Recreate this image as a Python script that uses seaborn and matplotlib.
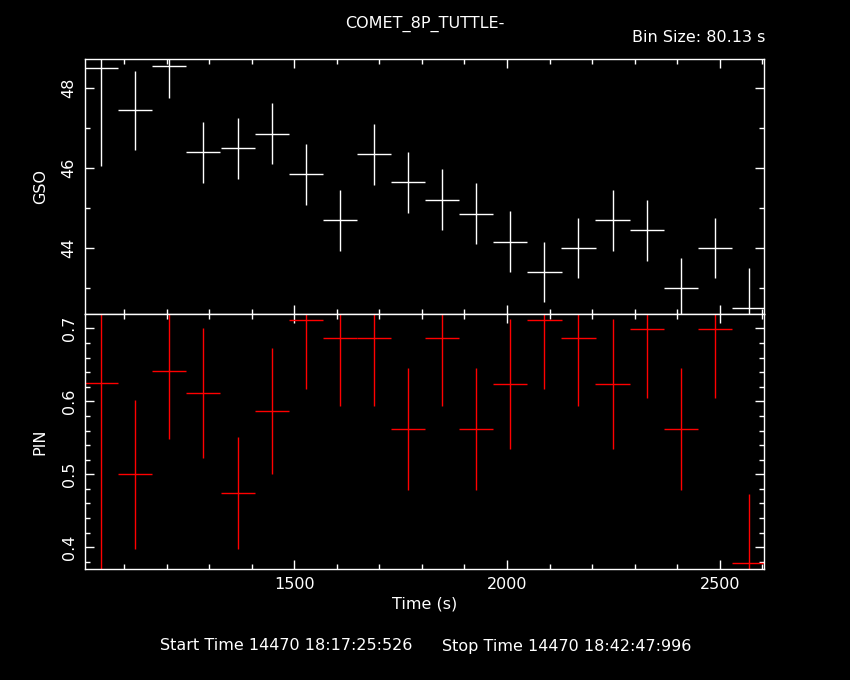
import numpy as np
import pandas as pd
import matplotlib
matplotlib.use("Agg")
import matplotlib.pyplot as plt
from matplotlib.ticker import MultipleLocator
import seaborn as sns

# ── Data ─────────────────────────────────────────────────────────────────────
time_s = [1046, 1126, 1206, 1286, 1367, 1447, 1527, 1607, 1687, 1767,
          1847, 1927, 2008, 2088, 2168, 2248, 2328, 2408, 2488, 2568]
half_bin = 40.065   # Bin size 80.13 s

gso = [48.50, 47.43, 48.55, 46.38, 46.48, 46.85, 45.83, 44.68, 46.33, 45.63,
       45.20, 44.85, 44.15, 43.38, 43.98, 44.68, 44.43, 43.00, 44.00, 42.48]
gso_err = [2.45, 0.99, 0.80, 0.77, 0.77, 0.77, 0.76, 0.76, 0.76, 0.76,
           0.76, 0.76, 0.76, 0.75, 0.75, 0.76, 0.76, 0.75, 0.75, 1.00]

pin = [0.625, 0.500, 0.641, 0.611, 0.474, 0.587, 0.712, 0.687, 0.687, 0.562,
       0.687, 0.562, 0.624, 0.712, 0.687, 0.624, 0.699, 0.562, 0.699, 0.378]
pin_err = [0.27, 0.102, 0.093, 0.089, 0.077, 0.086, 0.095, 0.094, 0.094, 0.084,
           0.094, 0.084, 0.089, 0.095, 0.094, 0.089, 0.094, 0.084, 0.094, 0.095]

df = pd.DataFrame({"time": time_s, "GSO": gso, "GSO_err": gso_err,
                   "PIN": pin, "PIN_err": pin_err})

# ── Style: black PGPLOT-like look ────────────────────────────────────────────
sns.set_style("ticks", {"axes.facecolor": "black", "figure.facecolor": "black",
                        "axes.edgecolor": "white", "text.color": "white",
                        "xtick.color": "white", "ytick.color": "white",
                        "axes.labelcolor": "white"})
plt.rcParams["font.family"] = ["DejaVu Sans"]
FS = 11.5

fig = plt.figure(figsize=(8.5, 6.8), dpi=100, facecolor="black")
ax_top = fig.add_axes([0.1, 0.5382, 0.7988, 0.3746])
ax_bot = fig.add_axes([0.1, 0.1632, 0.7988, 0.3750], sharex=ax_top)

ax_top.errorbar(df["time"], df["GSO"], xerr=half_bin, yerr=df["GSO_err"],
                fmt="none", ecolor="white", elinewidth=1.0, capsize=0)
ax_bot.errorbar(df["time"], df["PIN"], xerr=half_bin, yerr=df["PIN_err"],
                fmt="none", ecolor="#ff0000", elinewidth=1.0, capsize=0)

ax_top.set_xlim(1008, 2604)
ax_top.set_ylim(42.34, 48.71)
ax_bot.set_ylim(0.370, 0.7198)

for ax in (ax_top, ax_bot):
    ax.set_facecolor("black")
    for sp in ax.spines.values():
        sp.set_color("white")
        sp.set_linewidth(1.0)
        sp.set_visible(True)
    ax.xaxis.set_major_locator(MultipleLocator(500))
    ax.xaxis.set_minor_locator(MultipleLocator(100))
    ax.tick_params(which="both", direction="in", top=True, right=True,
                   colors="white", labelsize=FS, width=1.0)
    ax.tick_params(which="major", length=6.2, pad=6)
    ax.tick_params(which="minor", length=3.3)

ax_top.yaxis.set_major_locator(MultipleLocator(2))
ax_top.yaxis.set_minor_locator(MultipleLocator(1))
ax_bot.yaxis.set_major_locator(MultipleLocator(0.1))
ax_bot.yaxis.set_minor_locator(MultipleLocator(0.02))
ax_bot.yaxis.set_major_formatter(matplotlib.ticker.FormatStrFormatter("%.1f"))
ax_top.tick_params(labelbottom=False)
for ax in (ax_top, ax_bot):
    ax.tick_params(axis="y", labelrotation=90)
    for lab in ax.get_yticklabels():
        lab.set_va("center")

ax_top.set_ylabel("GSO", fontsize=FS)
ax_bot.set_ylabel("PIN", fontsize=FS)
ax_bot.set_xlabel("Time (s)", fontsize=FS, labelpad=3)
ax_top.yaxis.set_label_coords(-0.055, 0.5)
ax_bot.yaxis.set_label_coords(-0.055, 0.5)

fig.text(0.5, 1 - 24 / 680, "COMET_8P_TUTTLE-", ha="center", va="center",
         fontsize=FS, color="white")
fig.text(765 / 850, 1 - 38 / 680, "Bin Size: 80.13 s", ha="right",
         va="center", fontsize=FS, color="white")
fig.text(412 / 850, 1 - 646 / 680, "Start Time 14470 18:17:25:526",
         ha="right", va="center", fontsize=FS, color="white")
fig.text(442 / 850, 1 - 646 / 680, "Stop Time 14470 18:42:47:996",
         ha="left", va="center", fontsize=FS, color="white")

fig.savefig("out.png", dpi=100, facecolor="black")
plt.close(fig)
